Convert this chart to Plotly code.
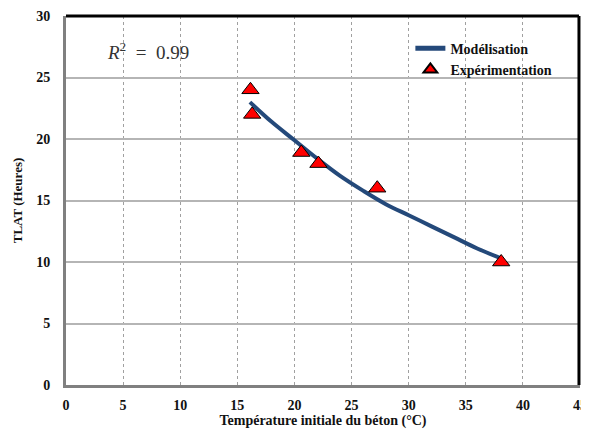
import plotly.graph_objects as go

# Experimental data
exp_temp = [16.15, 16.3, 20.6, 22.1, 27.25, 38.1]
exp_tlat = [24.0, 22.0, 18.9, 18.0, 16.0, 10.0]

# Model curve
mod_temp = [16.1, 18, 20, 22, 24, 26, 28, 30, 32, 34, 36, 38.1]
mod_tlat = [23.0, 21.4, 19.9, 18.4, 17.0, 15.8, 14.7, 13.8, 12.9, 12.0, 11.1, 10.3]

x_ticks = [0, 5, 10, 15, 20, 25, 30, 35, 40, 45]
y_ticks = [0, 5, 10, 15, 20, 25, 30]

serif = "Liberation Serif, Times New Roman, serif"

fig = go.Figure()
fig.add_trace(go.Scatter(
    x=mod_temp, y=mod_tlat, mode="lines", name="Modélisation",
    line=dict(color="#24497a", width=4, shape="spline"),
))
fig.add_trace(go.Scatter(
    x=exp_temp, y=exp_tlat, mode="markers", name="Expérimentation",
    marker=dict(symbol="triangle-up", size=15, color="#ff0000",
                line=dict(color="#000000", width=1)),
))

fig.update_layout(
    width=573, height=421,
    margin=dict(l=58, r=1, t=8, b=44, autoexpand=False),
    paper_bgcolor="white", plot_bgcolor="white",
    font=dict(family=serif, size=13, color="#111111"),
    showlegend=True,
    legend=dict(x=0.67, y=0.955, xanchor="left", yanchor="top",
                bgcolor="rgba(0,0,0,0)", itemsizing="constant",
                tracegroupgap=0,
                font=dict(family=serif, size=14, color="#111111", weight="bold")),
    xaxis=dict(
        range=[0, 45], tickvals=x_ticks, ticktext=[str(v) for v in x_ticks],
        showgrid=True, gridcolor="#a0a0a0", gridwidth=1, griddash="dot",
        showline=True, linecolor="#808080", linewidth=3,
        ticks="", zeroline=False, automargin=False,
        ticklabeloverflow="allow", ticklabelstandoff=5,
        tickfont=dict(family=serif, size=14, color="#111111", weight="bold"),
        title=dict(text="Température initiale du béton (°C)", standoff=13,
                   font=dict(family=serif, size=14, color="#111111", weight="bold")),
    ),
    yaxis=dict(
        range=[0, 30], tickvals=y_ticks, ticktext=[str(v) for v in y_ticks],
        showgrid=True, gridcolor="#b5b5b5", gridwidth=1.5,
        showline=True, linecolor="#808080", linewidth=3,
        ticks="", zeroline=False, ticklabelstandoff=10, automargin=False,
        tickfont=dict(family=serif, size=14, color="#111111", weight="bold"),
        title=dict(text="TLAT (Heures)", standoff=11,
                   font=dict(family=serif, size=13, color="#111111", weight="bold")),
    ),
)

# top and right black border
fig.add_shape(type="line", xref="paper", yref="paper", x0=0, x1=0.998, y0=1, y1=1,
              line=dict(color="black", width=3))
fig.add_shape(type="line", xref="paper", yref="paper", x0=0.998, x1=0.998, y0=0, y1=1,
              line=dict(color="black", width=3))

fig.add_annotation(x=0.075, y=0.905, xref="paper", yref="paper",
                   xanchor="left", yanchor="middle", showarrow=False,
                   text="<i>R</i><sup>2</sup>  =  0.99",
                   font=dict(family=serif, size=19, color="#333333"))

fig.write_html("out.html")
